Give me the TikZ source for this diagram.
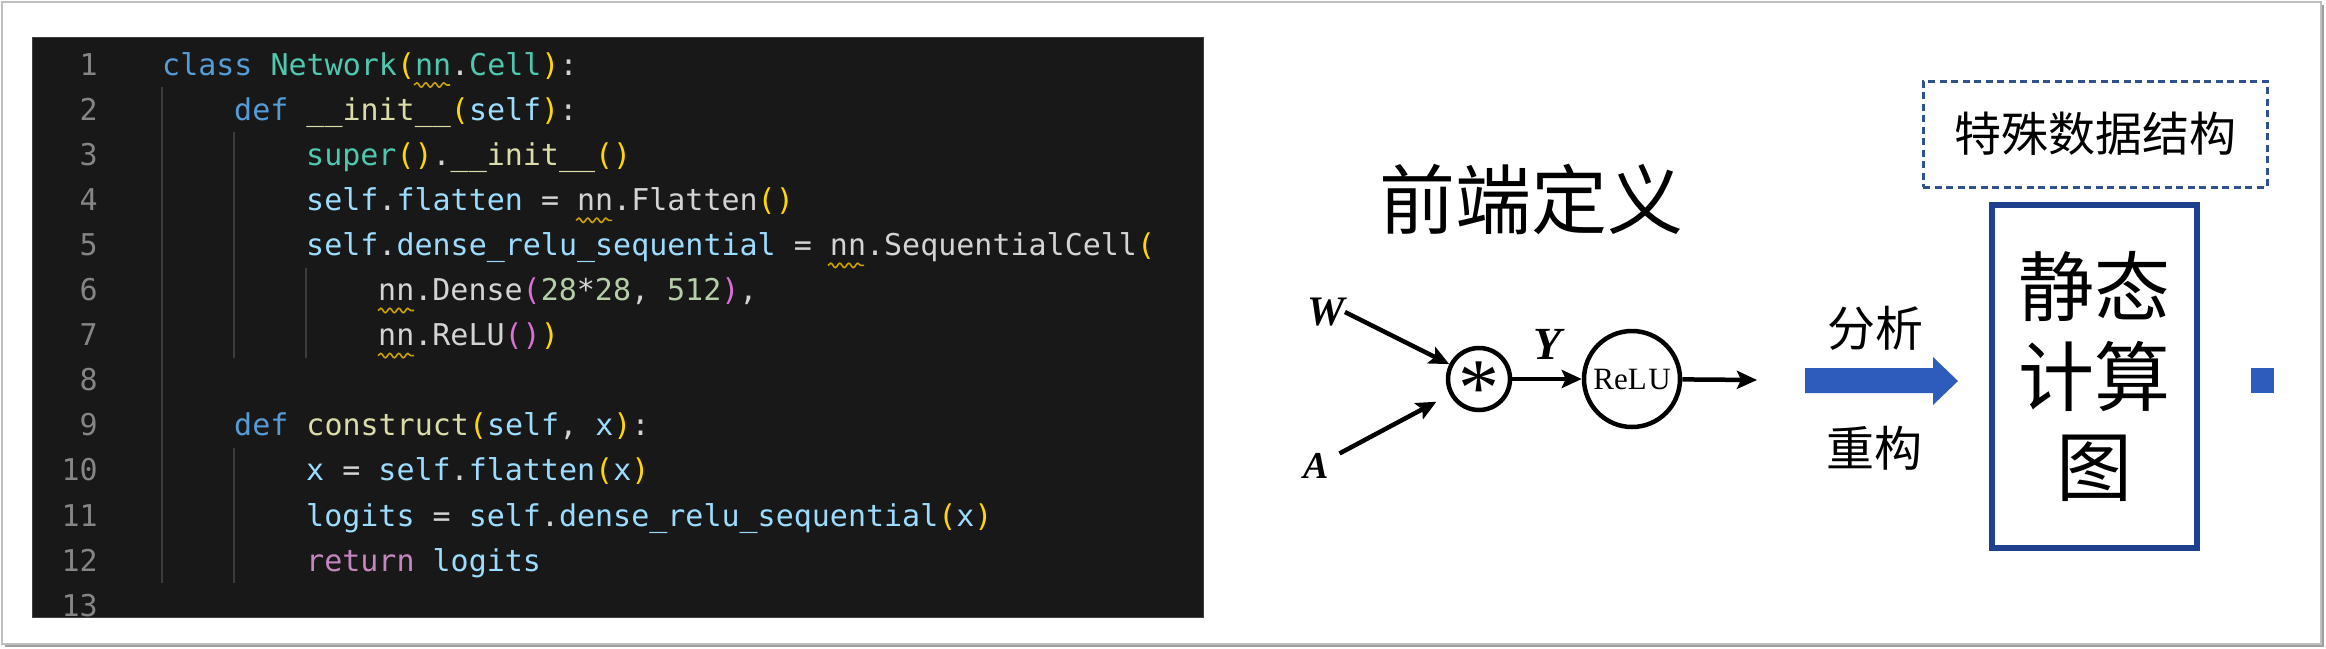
\documentclass[tikz,border=0pt]{standalone}
\usepackage{fontspec}
\usetikzlibrary{arrows.meta,decorations.pathmorphing}
\newfontfamily\codefont{DejaVu Sans Mono}
\newfontfamily\cjk{Noto Sans CJK SC}
\newfontfamily\tnr{Liberation Serif}

\definecolor{codebg}{HTML}{181818}
\definecolor{kw}{HTML}{569CD6}
\definecolor{cls}{HTML}{4EC9B0}
\definecolor{fnc}{HTML}{DCDCAA}
\definecolor{vr}{HTML}{9CDCFE}
\definecolor{pl}{HTML}{D4D4D4}
\definecolor{nm}{HTML}{B5CEA8}
\definecolor{ctl}{HTML}{C586C0}
\definecolor{bra}{HTML}{FFD700}
\definecolor{brb}{HTML}{DA70D6}
\definecolor{lnc}{HTML}{858585}
\definecolor{guidec}{HTML}{3C3C3C}
\definecolor{squigc}{HTML}{C9A200}
\definecolor{navy}{RGB}{31,64,140}
\definecolor{dashblue}{RGB}{47,82,143}
\definecolor{arrblue}{RGB}{46,92,188}

\newcommand\ckw[1]{\textcolor{kw}{#1}}
\newcommand\ccls[1]{\textcolor{cls}{#1}}
\newcommand\cfn[1]{\textcolor{fnc}{#1}}
\newcommand\cvr[1]{\textcolor{vr}{#1}}
\newcommand\cpl[1]{\textcolor{pl}{#1}}
\newcommand\cnm[1]{\textcolor{nm}{#1}}
\newcommand\cctl[1]{\textcolor{ctl}{#1}}
\newcommand\cba[1]{\textcolor{bra}{#1}}
\newcommand\cbb[1]{\textcolor{brb}{#1}}

\tikzset{
  codetxt/.style={anchor=base west, inner sep=0pt, text=pl,
    font=\codefont\fontsize{30}{36}\selectfont\frenchspacing},
  lnum/.style={anchor=base east, inner sep=0pt, text=lnc,
    font=\codefont\fontsize{30}{36}\selectfont},
  guideln/.style={draw=guidec, line width=1.5pt},
  squig/.style={draw=squigc, line width=1.6pt, decorate,
    decoration={snake, amplitude=2.2pt, segment length=9pt}},
  garr/.style={line width=4.5pt, -{Stealth[length=20pt,width=18pt,inset=4pt]}},
  opcirc/.style={circle, draw, line width=4.5pt, inner sep=0pt},
  varlbl/.style={inner sep=0pt},
  cjkt/.style={inner sep=0pt, anchor=base},
}

\newcommand\codeln[3]{\node[codetxt] (code#1) at ({162+18*#2},{75+45.1*(#1-1)}) {#3};}

\begin{document}
\begin{tikzpicture}[x=1pt,y=-1pt]
\useasboundingbox (0,0) rectangle (2326,648);
% outer frame with shadow
\fill[black!38] (5,5) rectangle (2324,647);
\filldraw[fill=white, draw=black!25, line width=1.5pt] (2,2) rectangle (2321,644);

% code panel
\filldraw[fill=codebg, draw=black!75!white, line width=1pt] (32,37) rectangle (1203,617);

% indent guides
\draw[guideln] (162,{42+45.1*1}) -- (162,{42+45.1*12});
\draw[guideln] (234,{42+45.1*2}) -- (234,{42+45.1*7});
\draw[guideln] (234,{42+45.1*9}) -- (234,{42+45.1*12});
\draw[guideln] (306,{42+45.1*5}) -- (306,{42+45.1*7});

% line numbers
\foreach \i in {1,...,13}
  \node[lnum] (num\i) at (98,{75+45.1*(\i-1)}) {\i};

% code
\codeln{1}{0}{\ckw{class} \ccls{Network}\cba{(}\ccls{nn}\cpl{.}\ccls{Cell}\cba{)}\cpl{:}}
\codeln{2}{4}{\ckw{def} \cfn{\_\_init\_\_}\cba{(}\cvr{self}\cba{)}\cpl{:}}
\codeln{3}{8}{\ccls{super}\cba{()}\cpl{.}\cfn{\_\_init\_\_}\cba{()}}
\codeln{4}{8}{\cvr{self}\cpl{.}\cvr{flatten} \cpl{=} \cpl{nn.Flatten}\cba{()}}
\codeln{5}{8}{\cvr{self}\cpl{.}\cvr{dense\_relu\_sequential} \cpl{=} \cpl{nn.SequentialCell}\cba{(}}
\codeln{6}{12}{\cpl{nn.Dense}\cbb{(}\cnm{28}\cpl{*}\cnm{28}\cpl{,} \cnm{512}\cbb{)}\cpl{,}}
\codeln{7}{12}{\cpl{nn.ReLU}\cbb{()}\cba{)}}
\codeln{9}{4}{\ckw{def} \cfn{construct}\cba{(}\cvr{self}\cpl{,} \cvr{x}\cba{)}\cpl{:}}
\codeln{10}{8}{\cvr{x} \cpl{=} \cvr{self}\cpl{.}\cvr{flatten}\cba{(}\cvr{x}\cba{)}}
\codeln{11}{8}{\cvr{logits} \cpl{=} \cvr{self}\cpl{.}\cvr{dense\_relu\_sequential}\cba{(}\cvr{x}\cba{)}}
\codeln{12}{8}{\cctl{return} \cvr{logits}}

% squiggles under nn
\draw[squig] ({162+18*14},{75+10}) -- ++(36,0);
\draw[squig] ({162+18*23},{75+45.1*3+10}) -- ++(36,0);
\draw[squig] ({162+18*37},{75+45.1*4+10}) -- ++(36,0);
\draw[squig] ({162+18*12},{75+45.1*5+10}) -- ++(36,0);
\draw[squig] ({162+18*12},{75+45.1*6+10}) -- ++(36,0);

% front-end definition
\node[cjkt, font=\cjk\fontsize{76}{80}\selectfont] (title) at (1531,228) {前端定义};

\node[varlbl, font=\tnr\bfseries\itshape\fontsize{42}{42}\selectfont] (W) at (1326,312) {W};
\node[varlbl, font=\tnr\bfseries\itshape\fontsize{38}{38}\selectfont] (A) at (1316,466) {A};
\node[varlbl, font=\tnr\bfseries\itshape\fontsize{46}{46}\selectfont] (Y) at (1548,344) {Y};

\node[opcirc, minimum size=62pt] (mul) at (1479,379) {};
\node[inner sep=0pt, anchor=base, font=\tnr\fontsize{82}{82}\selectfont] (ast) at (1479,415) {*};
\node[opcirc, minimum size=96pt, font=\tnr\fontsize{31}{31}\selectfont] (relu) at (1632,379) {ReL\kern1.5pt U};
\coordinate (out) at (1757,380);

\draw[garr] (W.east) -- (mul);
\draw[garr, shorten <=12pt, shorten >=15pt] (A) -- (mul);
\draw[garr] (mul) -- (relu);
\draw[garr] (relu) -- (out);

% analysis arrow
\fill[arrblue] (1805,368) -- (1933,368) -- (1933,357) -- (1958,381) -- (1933,405) -- (1933,393) -- (1805,393) -- cycle;
\node[cjkt, font=\cjk\fontsize{48}{48}\selectfont] (fx) at (1875,346) {分析};
\node[cjkt, font=\cjk\fontsize{48}{48}\selectfont] (cg) at (1874,466) {重构};

% special data structure
\node[draw=dashblue, line width=3pt, dash pattern=on 7pt off 4.5pt,
      minimum width=344pt, minimum height=106pt, inner sep=0pt,
      font=\cjk\fontsize{47}{47}\selectfont] (sds) at (2095,134) {特殊数据结构};

% static graph box
\node[draw=navy, line width=6pt, minimum width=205pt, minimum height=343pt,
      inner sep=0pt, align=center, font=\cjk\fontsize{76}{90}\selectfont] (sg) at (2094.5,376.5) {静态\\计算\\图};

% small square
\fill[arrblue] (2251,368) rectangle (2274,393);
\end{tikzpicture}
\end{document}
